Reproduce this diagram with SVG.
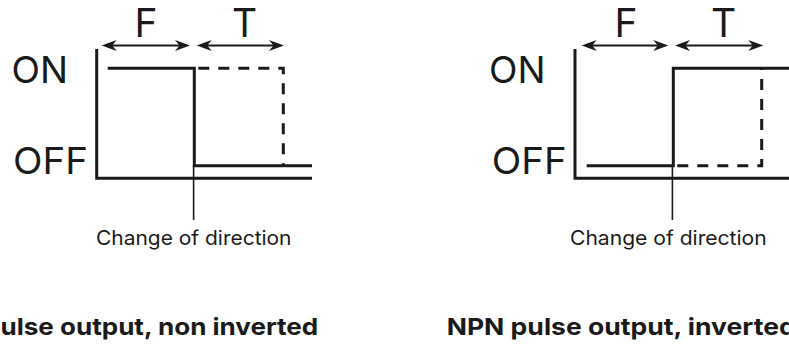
<svg xmlns="http://www.w3.org/2000/svg" width="789" height="345" viewBox="0 0 789 345">
<style>
.lbl{font-family:Inter,"Liberation Sans",sans-serif;fill:#1a1a1a}
.big{font-size:37px}
.ft{font-size:39px}
.cap{font-size:20px}
.ttl{font-size:23.5px;font-weight:700}
.thick{fill:none;stroke:#1a1a1a;stroke-width:3;stroke-linejoin:miter}
.dash{fill:none;stroke:#1a1a1a;stroke-width:3;stroke-dasharray:11 9;stroke-dashoffset:16}
.thin{fill:none;stroke:#1a1a1a;stroke-width:1.6}
.arr{fill:none;stroke:#1a1a1a;stroke-width:2;marker-start:url(#ah);marker-end:url(#ah)}
</style>
<defs>
<marker id="ah" viewBox="-16 -7 17 14" refX="-7" refY="0" markerWidth="17" markerHeight="14" markerUnits="userSpaceOnUse" orient="auto-start-reverse">
<path d="M0,0 L-15,-5.5 L-10.5,0 L-15,5.5 Z" fill="#1a1a1a"/>
</marker>
</defs>
<rect width="789" height="345" fill="#ffffff"/>
<g id="left-chart">
<text class="lbl big" x="11.5" y="83" textLength="56.5" lengthAdjust="spacingAndGlyphs">ON</text>
<text class="lbl big" x="13" y="174" textLength="75" lengthAdjust="spacingAndGlyphs">OFF</text>
<text class="lbl ft" x="134.5" y="37">F</text>
<text class="lbl ft" x="232" y="37">T</text>
<path class="thick" d="M96.7,49 V178.3 H312"/>
<path class="dash" d="M194.3,68.3 H283.3 V165.7"/>
<path class="thick" d="M107.7,68.3 H194.3 V165.7 H312"/>
<path class="thin" d="M193.6,165 V220"/>
<text class="lbl cap" x="96" y="245" textLength="195.5" lengthAdjust="spacingAndGlyphs">Change of direction</text>
<text class="lbl ttl" x="0.5" y="335" textLength="317.8" lengthAdjust="spacingAndGlyphs">ulse output, non inverted</text>
</g>
<g id="right-chart">
<text class="lbl big" x="489" y="83" textLength="56.5" lengthAdjust="spacingAndGlyphs">ON</text>
<text class="lbl big" x="491.7" y="174" textLength="75" lengthAdjust="spacingAndGlyphs">OFF</text>
<text class="lbl ft" x="614.5" y="37">F</text>
<text class="lbl ft" x="711" y="37">T</text>
<path class="thick" d="M575,49 V178.3 H789"/>
<path class="dash" d="M673.3,165.7 H761.7 V68.3"/>
<path class="thick" d="M586.7,165.7 H673.3 V68.3 H789"/>
<path class="thin" d="M672.4,165 V220"/>
<text class="lbl cap" x="570" y="245" textLength="196.7" lengthAdjust="spacingAndGlyphs">Change of direction</text>
<text class="lbl ttl" x="446.7" y="335" textLength="349" lengthAdjust="spacingAndGlyphs">NPN pulse output, inverted</text>
</g>
<g id="connectors">
<path class="arr" d="M108.7,45.5 H183"/>
<path class="arr" d="M203.7,45.5 H277"/>
<path class="arr" d="M588.7,45.5 H661.3"/>
<path class="arr" d="M682,45.5 H756.3"/>
</g>
</svg>
